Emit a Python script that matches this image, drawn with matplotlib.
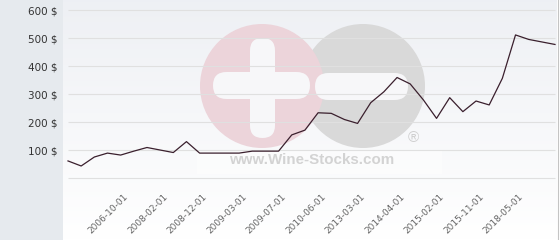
#!/usr/bin/env python
# coding=utf-8

import numpy as np
import matplotlib
matplotlib.use("Agg")
import matplotlib.pyplot as plt
import matplotlib.transforms as mtransforms
from matplotlib.patches import Circle, FancyBboxPatch, Rectangle

# price per bottle, one value per quotation
prices = [62, 44, 76, 90, 83, 97, 110, 101, 92, 131,
          90, 90, 90, 90, 97, 97, 97, 155, 172, 234,
          232, 210, 196, 270, 309, 360, 337, 280, 214, 288,
          238, 276, 262, 357, 512, 496, 487, 478]
date_labels = ["2006-10-01", "2008-02-01", "2008-12-01", "2009-03-01",
               "2009-07-01", "2010-06-01", "2013-03-01", "2014-04-01",
               "2015-02-01", "2015-11-01", "2018-05-01"]
y_ticks = [100, 200, 300, 400, 500, 600]

W, H = 560, 240


def rounded_bar(ax, x0, y0, x1, y1, color):
    r = min(x1 - x0, y1 - y0) / 2.0
    ax.add_patch(FancyBboxPatch((x0, y0), x1 - x0, y1 - y0,
                                boxstyle="round,pad=0,rounding_size=%g" % r,
                                fc=color, ec="none"))


def draw_background(fig):
    bg = fig.add_axes([0, 0, 1, 1])
    bg.set_xlim(0, W)
    bg.set_ylim(H, 0)
    bg.axis("off")
    bg.add_patch(Rectangle((0, 0), 63, H, fc="#e6eaee", ec="none"))
    grad = np.linspace(0, 1, 100)[:, None]
    top = np.array([0.933, 0.941, 0.957])
    bottom = np.array([1.0, 1.0, 1.0])
    img = top + (bottom - top) * grad[:, :, None]
    bg.imshow(img, extent=(63, 557, H, 0), aspect="auto", zorder=0)
    bg.plot([557.5, 557.5], [0, H], color="#c4c4c4", lw=0.8)

    # watermark
    bg.add_patch(Rectangle((197, 150), 245, 24, fc="white", alpha=0.45, ec="none"))
    bg.add_patch(Circle((363, 86), 62, fc="#d9d9d9", ec="none"))
    bg.add_patch(Circle((262, 86), 62, fc="#ecd4da", ec="none"))
    rounded_bar(bg, 250, 38, 275, 138, "#f7f7f9")
    rounded_bar(bg, 213, 72, 310, 99, "#f7f7f9")
    rounded_bar(bg, 315, 73, 408, 100, "#f7f7f9")
    bg.text(312, 160, "www.Wine-Stocks.com", family="Liberation Sans",
            weight="bold", size=10.9, color="#d3d3d3", ha="center", va="center")
    bg.text(413, 138, "\u00ae", family="Liberation Sans", size=11,
            color="#cfcfcf", ha="center", va="center")


def main():
    fig = plt.figure(figsize=(W / 100, H / 100), dpi=100)
    draw_background(fig)

    ax = fig.add_axes([63 / W, 50 / H, 495 / W, 190 / H])
    ax.patch.set_alpha(0)
    x = np.arange(len(prices))
    step = 487 / 37.0
    ax.set_xlim(-5 / step, len(prices) - 1 + 3 / step)
    ax.set_ylim(-11.7 / 0.28, 178.3 / 0.28)
    for s in ax.spines.values():
        s.set_visible(False)

    ax.hlines([0] + y_ticks, 0, len(prices) - 1, color="#e0e0e0", lw=0.8, zorder=1)
    ax.plot(x, prices, color="#3a1f2d", lw=0.9, zorder=3)

    ax.set_yticks(y_ticks)
    ax.set_yticklabels(["%d $" % v for v in y_ticks], fontsize=7.5, color="#333333")
    ax.tick_params(axis="y", length=0, pad=3.6)

    ax.set_xticks(x[5::3])
    ax.set_xticklabels(date_labels, rotation=45, ha="right", va="top",
                       rotation_mode="anchor", fontsize=6.5, color="#666666")
    ax.tick_params(axis="x", length=0, pad=0)
    offset = mtransforms.ScaledTranslation(-0.10, -0.02, fig.dpi_scale_trans)
    for lab in ax.get_xticklabels():
        lab.set_transform(lab.get_transform() + offset)

    fig.savefig("out.png", dpi=100)


if __name__ == "__main__":
    main()
